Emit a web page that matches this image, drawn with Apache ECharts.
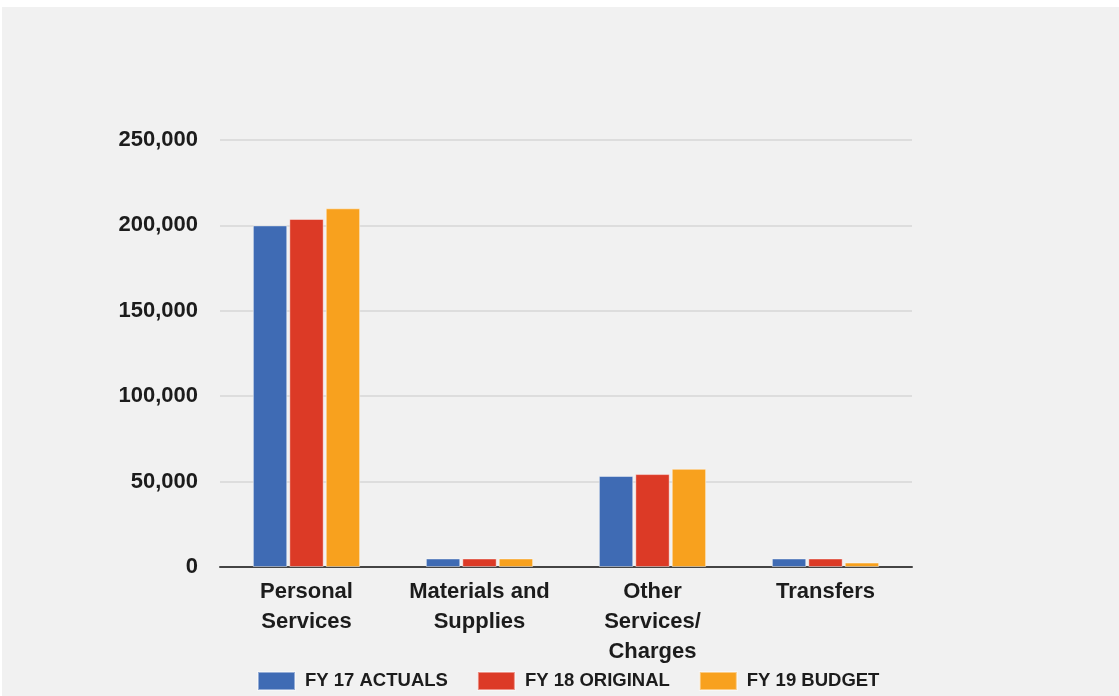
<!DOCTYPE html>
<html>
<head>
<meta charset="utf-8">
<script src="https://cdn.jsdelivr.net/npm/echarts@6/dist/echarts.min.js"></script>
<style>
  html, body { margin: 0; padding: 0; background: #ffffff; }
  #chart { position: absolute; left: 2px; top: 7px; width: 1117px; height: 689px; background: #f1f1f1; }
</style>
</head>
<body>
<div id="chart"></div>
<script>
// categories and series
var categories = ['Personal\nServices', 'Materials and\nSupplies', 'Other\nServices/\nCharges', 'Transfers'];
var seriesNames = ['FY 17 ACTUALS', 'FY 18 ORIGINAL', 'FY 19 BUDGET'];
var fy17 = [200000, 5000, 53300, 5000];
var fy18 = [203800, 5000, 54400, 5000];
var fy19 = [210000, 5000, 57500, 2600];
var colors = ['#3f6bb4', '#dc3a26', '#f8a11e'];

var font = '"Liberation Sans", Arial, Helvetica, sans-serif';

var myChart = echarts.init(document.getElementById('chart'));

function bar(name, data) {
    return {
        name: name,
        type: 'bar',
        barGap: '6%',
        barCategoryGap: '38%',
        itemStyle: { borderColor: 'rgba(255,255,255,0.45)', borderWidth: 1 },
        data: data
    };
}

myChart.setOption({
    animation: false,
    color: colors,
    grid: { left: 218, right: 207, top: 133, bottom: 129 },
    legend: {
        left: 250,
        top: 659,
        itemWidth: 37,
        itemHeight: 18,
        itemGap: 29,
        icon: 'rect',
        textStyle: { fontFamily: font, fontWeight: 'bold', fontSize: 18.5, color: '#1c1c1c', padding: [0, 0, 0, 5] },
        data: seriesNames
    },
    xAxis: {
        type: 'category',
        data: categories,
        axisLine: { lineStyle: { color: '#444', width: 2 } },
        axisTick: { show: false },
        axisLabel: {
            interval: 0,
            margin: 10,
            lineHeight: 30,
            fontFamily: font,
            fontWeight: 'bold',
            fontSize: 22,
            color: '#1c1c1c'
        }
    },
    yAxis: {
        type: 'value',
        min: 0,
        max: 250000,
        interval: 50000,
        axisLine: { show: false },
        axisTick: { show: false },
        splitLine: { lineStyle: { color: '#d6d6d6', width: 1.5 } },
        axisLabel: {
            margin: 22,
            fontFamily: font,
            fontWeight: 'bold',
            fontSize: 22,
            color: '#1c1c1c',
            formatter: function (v) { return v.toLocaleString('en-US'); }
        }
    },
    series: [bar(seriesNames[0], fy17), bar(seriesNames[1], fy18), bar(seriesNames[2], fy19)]
});
</script>
</body>
</html>
